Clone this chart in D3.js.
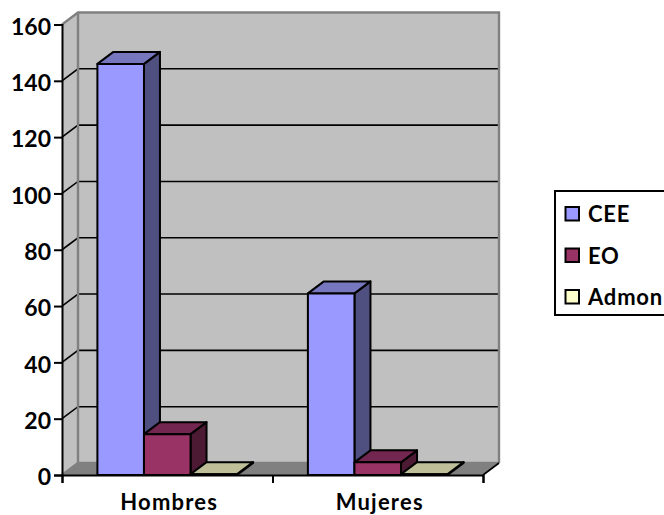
<!DOCTYPE html>
<html><head><meta charset="utf-8">
<script src="https://cdnjs.cloudflare.com/ajax/libs/d3/7.8.5/d3.min.js"></script>
<style>html,body{margin:0;padding:0;background:#fff;overflow:hidden}svg{display:block}
text{font-family:Lato,"Open Sans",sans-serif;font-weight:700;fill:#000}</style></head><body>
<svg id="c" width="664" height="515"></svg>
<script>
const categories = ["Hombres","Mujeres"];
const seriesNames = ["CEE","EO","Admon"];
const cee = [146,64.5];
const eo = [14.5,4.5];
const admon = [0.3,0.3];
const yTicks = [0,20,40,60,80,100,120,140,160];
const seriesColors = ["#9999ff","#993366","#ffffcc"];
const topColors = ["#7777c0","#732650","#bfbf99"];
const sideColors = ["#4f4f80","#4d1a33","#808066"];

const seriesValues = [cee,eo,admon];
const svg = d3.select("#c");
const dx = 16, dy = -12;
const x = d3.scaleBand().domain(categories).range([62,483]);
const y = d3.scaleLinear().domain([0,160]).range([475,24.5]);
const inner = d3.scaleBand().domain(seriesNames).range([0,x.bandwidth()]).paddingOuter(0.76).paddingInner(0);
const path = pts => "M"+pts.map(p=>p.join(",")).join("L")+"Z";
const x0=x.range()[0], x1=x.range()[1], y0=y(0), yT=y(160);

// walls
svg.append("path").attr("d",path([[x0+dx,yT+dy],[x1+dx,yT+dy],[x1+dx,y0+dy],[x0+dx,y0+dy]])).attr("fill","#c0c0c0");
svg.append("path").attr("d",path([[x0,yT],[x0+dx,yT+dy],[x0+dx,y0+dy],[x0,y0]])).attr("fill","#c0c0c0");
svg.append("path").attr("d",path([[x0,y0],[x0+dx,y0+dy],[x1+dx,y0+dy],[x1,y0]])).attr("fill","#808080");
// gridlines
const grid = svg.append("g").attr("stroke","#000").attr("stroke-width",1.6).attr("fill","none");
yTicks.filter(t=>t>0&&t<160).forEach(t=>{
  grid.append("path").attr("d",`M${x0},${y(t)}L${x0+dx},${y(t)+dy}L${x1+dx},${y(t)+dy}`);
});
// wall borders
const wb = svg.append("g").attr("stroke","#808080").attr("stroke-width",2.4).attr("fill","none");
wb.append("path").attr("d",`M${x0},${yT}L${x0+dx},${yT+dy}L${x1+dx},${yT+dy}L${x1+dx},${y0+dy}`);
wb.append("path").attr("d",`M${x0+dx},${yT+dy}L${x0+dx},${y0+dy}L${x1+dx},${y0+dy}`);
wb.append("path").attr("d",`M${x0},${y0}L${x0+dx},${y0+dy}`);
svg.append("path").attr("d",`M${x1},${y0}L${x1+dx},${y0+dy}`).attr("stroke","#000").attr("stroke-width",1.6);

// bars, drawn left to right
const bars = svg.append("g").attr("stroke","#000").attr("stroke-width",2).attr("stroke-linejoin","round");
categories.forEach((c,ci)=>{
  seriesNames.forEach((s,si)=>{
    const v = seriesValues[si][ci];
    const l = x(c)+inner(s), r = l+inner.bandwidth(), t = y(v), b = y(0);
    bars.append("path").attr("d",path([[r,t],[r+dx,t+dy],[r+dx,b+dy],[r,b]])).attr("fill",sideColors[si]);
    bars.append("path").attr("d",path([[l,t],[l+dx,t+dy],[r+dx,t+dy],[r,t]])).attr("fill",topColors[si]);
    bars.append("rect").attr("x",l).attr("y",t).attr("width",r-l).attr("height",b-t).attr("fill",seriesColors[si]);
  });
});

// axes
const yAxis = d3.axisLeft(y).tickValues(yTicks).tickSize(8).tickPadding(3);
const gy = svg.append("g").attr("transform",`translate(${x0},0)`).call(yAxis);
gy.selectAll("text").attr("font-size",23).attr("dy","0.42em").style("font-family","Lato");
gy.selectAll("line,path").attr("stroke","#000").attr("stroke-width",2);
const xAxis = d3.axisBottom(d3.scaleLinear().domain([0,2]).range([x0,x1])).tickValues([0,1,2]).tickSize(8).tickFormat("");
const gx = svg.append("g").attr("transform",`translate(0,${y0})`).call(xAxis);
gx.selectAll("line,path").attr("stroke","#000").attr("stroke-width",2);
svg.append("g").selectAll("text").data(categories).join("text")
  .attr("x",c=>x(c)+x.bandwidth()/2+2).attr("y",510).attr("text-anchor","middle").attr("font-size",22).attr("letter-spacing",1.2).text(c=>c);

// legend
svg.append("rect").attr("x",555).attr("y",191).attr("width",120).attr("height",124).attr("fill","#fff").attr("stroke","#000").attr("stroke-width",2);
const leg = d3.scalePoint().domain(seriesNames).range([214,297]);
const lg = svg.append("g").selectAll("g").data(seriesNames).join("g").attr("transform",s=>`translate(0,${leg(s)})`);
lg.append("rect").attr("x",565.5).attr("y",-7).attr("width",13.5).attr("height",13.5).attr("fill",(s,i)=>seriesColors[i]).attr("stroke","#000").attr("stroke-width",2);
lg.append("text").attr("x",588).attr("y",8).attr("font-size",22).attr("letter-spacing",0.8).text(s=>s);
</script></body></html>
